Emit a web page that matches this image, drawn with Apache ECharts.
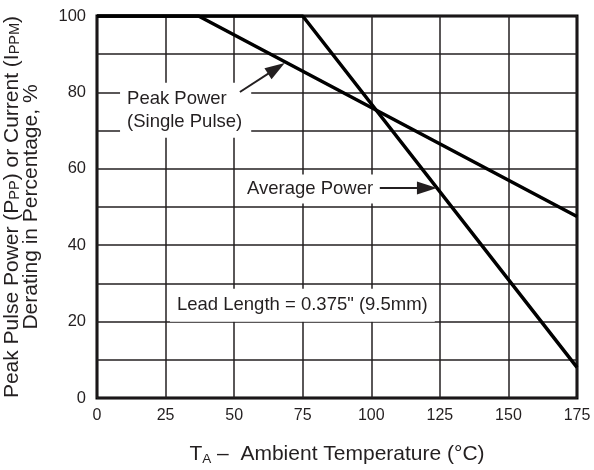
<!DOCTYPE html>
<html><head><meta charset="utf-8">
<script src="https://cdn.jsdelivr.net/npm/echarts@6/dist/echarts.min.js"></script>
<style>html,body{margin:0;padding:0;background:#fff}#c{width:594px;height:470px}</style>
</head><body><div id="c"></div>
<script>
// ---- data ----
const xTicks = [0, 25, 50, 75, 100, 125, 150, 175];
const yTickLabels = [0, 20, 40, 60, 80, 100];
const peakPowerTemp = [0, 37, 175];
const peakPowerPct = [100, 100, 47.5];
const avgPowerTemp = [0, 75, 175];
const avgPowerPct = [100, 100, 8];
const peakLabel = 'Peak Power\n(Single Pulse)';
const avgLabel = 'Average Power';
const leadLabel = 'Lead Length = 0.375" (9.5mm)';

const FONT = "'Liberation Sans', Arial, Helvetica, sans-serif";
const INK = '#231f20';

const zip = (a, b) => a.map((v, i) => [v, b[i]]);

const chart = echarts.init(document.getElementById('c'), null, {renderer: 'canvas'});
chart.setOption({
  animation: false,
  backgroundColor: '#fff',
  textStyle: {fontFamily: FONT, color: INK},
  grid: {left: 97, right: 17, top: 16, bottom: 72, show: true, borderColor: '#000', borderWidth: 3,
    backgroundColor: 'transparent', containLabel: false, outerBoundsMode: 'none'},
  xAxis: {
    type: 'value', min: 0, max: 175, interval: 25,
    axisLine: {show: false}, axisTick: {show: false},
    splitLine: {show: true, lineStyle: {color: INK, width: 1.5}},
    axisLabel: {fontSize: 16, color: INK, fontFamily: FONT, margin: 10,
      formatter: v => xTicks.includes(v) ? String(v) : ''},
    name: '{t|T}{s|A}{t| –  Ambient Temperature (°C)}',
    nameLocation: 'middle', nameGap: 44,
    nameTextStyle: {fontFamily: FONT, color: INK, rich: {
      t: {fontSize: 21, lineHeight: 24, fontFamily: FONT, color: INK},
      s: {fontSize: 13.5, lineHeight: 13, verticalAlign: 'bottom', fontFamily: FONT, color: INK}
    }}
  },
  yAxis: {
    type: 'value', min: 0, max: 100, interval: 10,
    axisLine: {show: false}, axisTick: {show: false},
    splitLine: {show: true, lineStyle: {color: INK, width: 1.5}},
    axisLabel: {fontSize: 16.5, color: INK, fontFamily: FONT, margin: 11,
      formatter: v => yTickLabels.includes(v) ? String(v) : ''},
    name: '{t|Peak Pulse Power (P}{s|PP}{t|) or Current (I}{s|PPM}{t|)}\n{t|Derating in Percentage, %}',
    nameLocation: 'middle', nameGap: 56,
    nameTextStyle: {fontFamily: FONT, color: INK, rich: {
      t: {fontSize: 21, lineHeight: 19, fontFamily: FONT, color: INK},
      s: {fontSize: 14.5, lineHeight: 12, verticalAlign: 'bottom', fontFamily: FONT, color: INK}
    }}
  },
  series: [
    {
      name: 'Peak Power', type: 'line', data: zip(peakPowerTemp, peakPowerPct),
      showSymbol: false, lineStyle: {color: '#000', width: 3.5}, z: 3
    },
    {
      name: 'Average Power', type: 'line', data: zip(avgPowerTemp, avgPowerPct),
      showSymbol: false, lineStyle: {color: '#000', width: 3.5}, z: 3,
      markPoint: {
        silent: true, symbol: 'rect', symbolSize: 0, z: 5,
        data: [
          {coord: [8.4, 75.3], label: {show: true, position: 'right', distance: 0, formatter: peakLabel,
            backgroundColor: '#fff', padding: [5, 9, 4, 7], fontSize: 18.5, lineHeight: 23, color: INK, fontFamily: FONT, align: 'left'}},
          {coord: [51.4, 54.7], label: {show: true, position: 'right', distance: 0, formatter: avgLabel,
            backgroundColor: '#fff', padding: [4, 5, 4, 9], fontSize: 18.5, lineHeight: 21, color: INK, fontFamily: FONT}},
          {coord: [26.6, 24.3], label: {show: true, position: 'right', distance: 0, formatter: leadLabel,
            backgroundColor: '#fff', padding: [6, 7, 6, 7], fontSize: 18.5, lineHeight: 21, color: INK, fontFamily: FONT}}
        ]
      },
      markLine: {
        silent: true, z: 6, symbol: ['none', 'triangle'], symbolSize: [13, 20],
        label: {show: false},
        lineStyle: {color: INK, width: 2, type: 'solid'},
        data: [
          [{coord: [52.1, 80.1]}, {coord: [65.4, 86.3]}],
          [{coord: [103.1, 55]}, {coord: [120.3, 55]}]
        ]
      }
    }
  ]
});
</script></body></html>
